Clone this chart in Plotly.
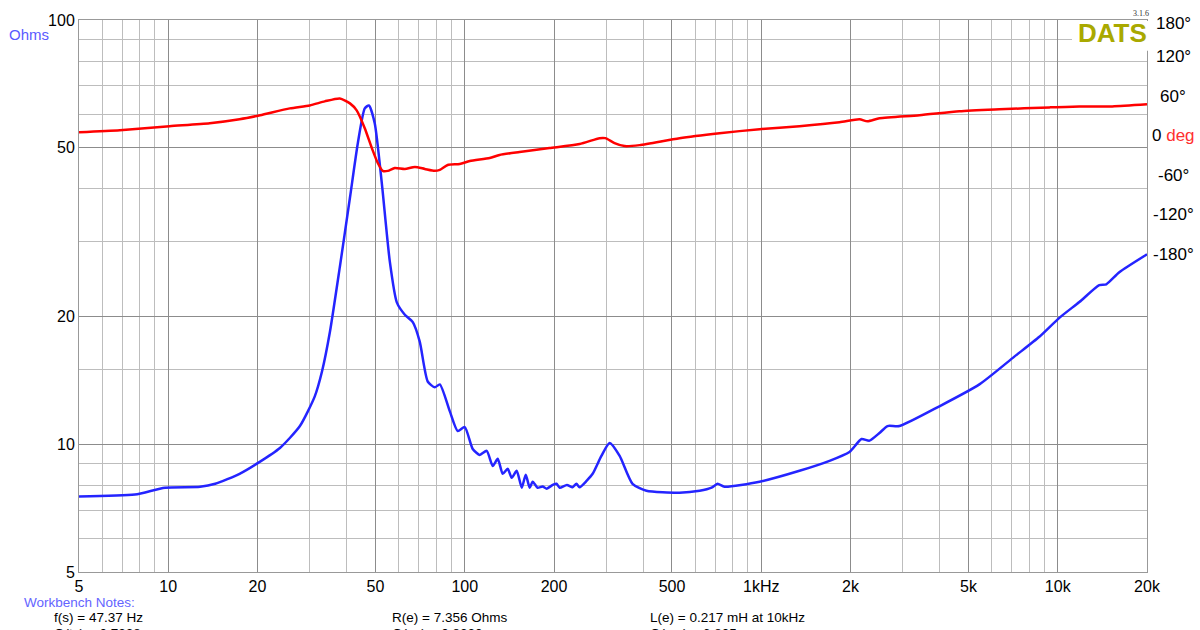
import plotly.graph_objects as go

# ---- Impedance magnitude (Ohms) ----
imp_freq = [5, 7.72, 9.75, 12.8, 14.4, 17.4, 20.1, 23.8, 27.8, 31.2, 33.0, 35.1, 37.9, 41.0, 43.6,
            46.0, 47.5, 49.7, 52.5, 55.9, 59.0, 62.8, 66.8, 70.5, 75.0, 79.2, 82.4, 89.0, 94.7,
            100, 106.4, 112.3, 118.6, 124.3, 129.2, 134.3, 139.6, 144, 149.7, 155.7, 160.6,
            165.6, 169.5, 176, 183, 189, 198, 204, 209, 221, 231, 238, 244, 258, 270, 289,
            308, 333, 368, 410, 530, 620, 680, 712, 752, 987, 1346, 1699, 1984, 2178, 2317,
            2505, 2665, 2925, 3990, 5441, 7138, 8670, 10124, 11824, 13808, 14580, 16128, 20000]
imp_ohms = [7.53, 7.61, 7.90, 7.94, 8.07, 8.52, 9.04, 9.80, 11.04, 12.97, 14.84, 18.41, 26.15, 38.1, 51.3,
            61.9, 62.9, 57.1, 41.3, 26.9, 21.6, 20.2, 19.4, 17.45, 14.06, 13.62, 13.84, 11.97, 10.74,
            10.98, 9.75, 9.44, 9.65, 8.89, 9.24, 8.52, 8.76, 8.34, 8.66, 7.90, 8.48,
            7.90, 8.16, 7.90, 7.95, 7.86, 8.02, 8.07, 7.90, 8.02, 7.92, 8.07, 7.92, 8.21, 8.52, 9.39,
            10.07, 9.39, 8.07, 7.77, 7.69, 7.77, 7.90, 8.07, 7.94, 8.16, 8.66, 9.14, 9.59, 10.29, 10.2,
            10.63, 11.04, 11.04, 12.29, 13.84, 16.09, 17.92, 19.86, 21.64, 23.72, 23.83, 25.43, 28.03]

# ---- Phase (degrees) ----
ph_freq = [5, 6.87, 10.1, 13.8, 17.4, 20.4, 25.7, 30.0, 33.7, 37.9, 41.0, 43.2, 46.0, 48.6, 50.9,
           52.9, 55.0, 58.1, 62.8, 67.9, 73.3, 79.2, 82.4, 87.6, 96.2, 104, 121.4, 131, 153, 193,
           244, 285, 298, 320, 346, 389, 530, 723, 987, 1346, 1836, 2144, 2281, 2505, 3416,
           4659, 6355, 9370, 11824, 15276, 20000]
ph_deg = [8.4, 11.5, 17.5, 22.0, 28.0, 34.1, 44.6, 49.1, 55.2, 59.7, 52.2, 41.6, 14.5, -15.7, -38.3,
          -50.3, -50.3, -45.8, -47.3, -44.3, -47.3, -50.3, -48.8, -41.3, -39.8, -35.3, -30.8, -26.2, -21.7, -15.7,
          -9.6, -0.6, -0.6, -8.1, -12.7, -11.2, -0.6, 6.9, 13.0, 17.5, 23.5, 28.0, 25.0, 29.6, 34.1,
          40.1, 43.1, 46.1, 47.6, 47.6, 50.7]

x_ticks = [5, 10, 20, 50, 100, 200, 500, 1000, 2000, 5000, 10000, 20000]
x_ticktext = ["5", "10", "20", "50", "100", "200", "500", "1kHz", "2k", "5k", "10k", "20k"]
x_minor = [6, 7, 8, 9, 30, 40, 60, 70, 80, 90, 300, 400, 600, 700, 800, 900,
           3000, 4000, 6000, 7000, 8000, 9000]
y_ticks = [5, 10, 20, 50, 100]
y_minor = [6, 7, 8, 9, 15, 30, 40, 60, 70, 80, 90]
ph_ticks = [120, 60, 0, -60, -120, -180]
ph_ticktext = ["120°", "60°", "0 <span style='color:#ff3030'>deg</span>", "-60°", "-120°", "-180°"]

FONT = "Arial, Liberation Sans, sans-serif"
L, R, T, B = 79, 1147, 16, 572
W = R - L
H = B - T


def px(xp):
    return (xp - L) / W


def py(yp):
    return (B - yp) / H


fig = go.Figure()
fig.add_trace(go.Scatter(x=imp_freq, y=imp_ohms, mode="lines",
                         line=dict(color="#2424ff", width=2.5, shape="spline", smoothing=0.6),
                         showlegend=False, hoverinfo="skip"))
fig.add_trace(go.Scatter(x=ph_freq, y=ph_deg, mode="lines", yaxis="y2",
                         line=dict(color="#ff0000", width=2.5, shape="spline", smoothing=0.6),
                         showlegend=False, hoverinfo="skip"))

grid_major = "#8c8c8c"
grid_minor = "#bdbdbd"

fig.update_layout(
    width=1200, height=630,
    margin=dict(l=L, r=1200 - R, t=T, b=630 - B),
    paper_bgcolor="white", plot_bgcolor="white",
    font=dict(family=FONT, size=16, color="black"),
    xaxis=dict(type="log", range=[0.69897, 4.30103],
               tickvals=x_ticks, ticktext=x_ticktext, ticks="",
               showgrid=True, gridcolor=grid_major, gridwidth=1,
               minor=dict(tickvals=x_minor, showgrid=True, gridcolor=grid_minor, gridwidth=1, ticks=""),
               showline=True, linecolor="#999999", linewidth=1, mirror=True,
               zeroline=False, tickfont=dict(size=16, family=FONT)),
    yaxis=dict(type="log", range=[0.69897, 2.0],
               tickvals=y_ticks, ticktext=[str(v) for v in y_ticks], ticks="",
               showgrid=True, gridcolor=grid_major, gridwidth=1,
               minor=dict(tickvals=y_minor, showgrid=True, gridcolor=grid_minor, gridwidth=1, ticks=""),
               showline=True, linecolor="#999999", linewidth=1, mirror=True,
               zeroline=False, tickfont=dict(size=16, family=FONT)),
    yaxis2=dict(overlaying="y", side="right", range=[-659.4, 178.8],
                showgrid=False, showticklabels=False, zeroline=False, showline=False, ticks=""),
)

# white box behind DATS logo
fig.add_shape(type="rect", xref="paper", yref="paper",
              x0=px(1072), x1=px(1151), y0=py(47), y1=py(17),
              fillcolor="white", line=dict(width=0), layer="above")

ann = []


def add(text, x, y, size, color="black", family=FONT, xanchor="center", yref="paper", yshift=0):
    ann.append(dict(text=text, x=x, y=y, xref="paper", yref=yref,
                    xanchor=xanchor, yanchor="middle", showarrow=False, yshift=yshift,
                    font=dict(size=size, color=color, family=family)))


add("<b>DATS</b>", px(1112), py(29), 26, "#a9a900")
add("3.1.6", px(1141), py(9), 8, "#333333", "Liberation Serif, serif")
add("Ohms", px(29), py(31), 15, "#5a5aff")
add("180°", px(1173), py(20), 17)
for v, t in zip(ph_ticks, ph_ticktext):
    add(t, px(1173), v, 17, yref="y2", yshift=2)

notes = [
    ("Workbench Notes:", 22, 603, "#6464ff"),
    ("f(s) = 47.37 Hz", 52, 618, "black"),
    ("R(e) = 7.356 Ohms", 390, 618, "black"),
    ("L(e) = 0.217 mH at 10kHz", 648, 618, "black"),
    ("Q(ts) = 0.7328", 52, 634, "black"),
    ("Q(es) = 0.8220", 390, 634, "black"),
    ("Q(ms) = 6.805", 648, 634, "black"),
]
for t, xx, yy, c in notes:
    add(t, px(xx), py(yy), 13.5, c, xanchor="left")

fig.update_layout(annotations=ann)

fig.write_html("out.html", config={"displayModeBar": False},
               post_script="document.body.style.margin='0';document.body.style.overflow='hidden';")
